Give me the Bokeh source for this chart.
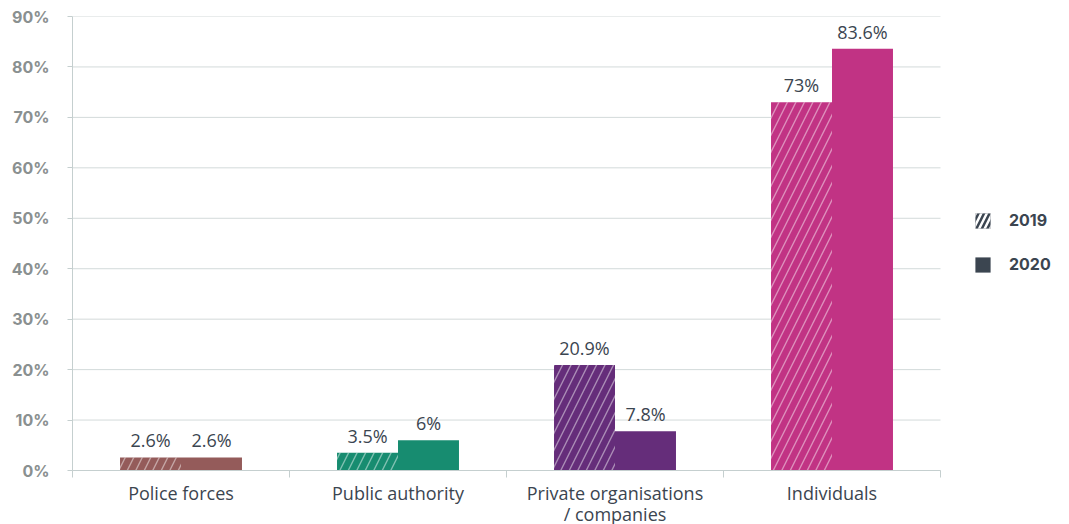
import numpy as np
from bokeh.plotting import figure
from bokeh.models import (ColumnDataSource, Range1d, FixedTicker, PrintfTickFormatter,
                          Legend, LegendItem)
from bokeh.core.properties import value
from bokeh.embed import file_html
from bokeh.resources import INLINE

categories = ["Police forces", "Public authority", "Private organisations\n/ companies", "Individuals"]
values_2019 = [2.6, 3.5, 20.9, 73]
values_2020 = [2.6, 6, 7.8, 83.6]
labels_2019 = ["2.6%", "3.5%", "20.9%", "73%"]
labels_2020 = ["2.6%", "6%", "7.8%", "83.6%"]
colors = ["#945b5a", "#178c70", "#652d7a", "#c13384"]
y_ticks = [0, 10, 20, 30, 40, 50, 60, 70, 80, 90]

TEXT = "#3b4550"
GRID = "#d3dada"
AXIS = "#c5cfcf"
FONT = "Open Sans"

n = len(categories)
centers = np.arange(n) + 0.5
bw = 0.281
off = 0.1405

PLOT_W = 868      # pixel width of the category area
LEGEND_W = 121    # extra frame room on the right for the legend
x_end = n * (PLOT_W + LEGEND_W) / PLOT_W

src = ColumnDataSource(dict(
    c=centers, x19=centers - off, x20=centers + off,
    v19=values_2019, v20=values_2020, l19=labels_2019, l20=labels_2020, col=colors,
))
grid_src = ColumnDataSource(dict(y=y_ticks, x0=[0] * len(y_ticks), x1=[n] * len(y_ticks)))

p = figure(frame_width=PLOT_W + LEGEND_W, frame_height=454, output_backend="svg",
           toolbar_location=None,
           x_range=Range1d(0, x_end), y_range=Range1d(0, 90),
           min_border_left=72, min_border_top=16, min_border_bottom=54, min_border_right=0)
p.outline_line_color = None
p.xgrid.grid_line_color = None
p.ygrid.grid_line_color = None

# grid lines limited to the category area
p.segment(x0="x0", x1="x1", y0="y", y1="y", source=grid_src, line_color=GRID, line_width=1)

p.vbar(x="x19", top="v19", width=bw, source=src, fill_color="col", line_color=None,
       hatch_pattern="right_diagonal_line", hatch_color="white", hatch_alpha=0.45,
       hatch_weight=1.4, hatch_scale=17)
p.vbar(x="x20", top="v20", width=bw, source=src, fill_color="col", line_color=None)

p.text(x="x19", y="v19", text="l19", source=src, y_offset=-5, text_align="center",
       text_baseline="bottom", text_color=TEXT, text_font_size="18px", text_font=value(FONT))
p.text(x="x20", y="v20", text="l20", source=src, y_offset=-5, text_align="center",
       text_baseline="bottom", text_color=TEXT, text_font_size="18px", text_font=value(FONT))

# legend proxy renderers (zero-height, invisible in plot)
r19 = p.vbar(x=[centers[0]], top=[0], bottom=[0], width=bw, fill_color=TEXT, line_color=None,
             hatch_pattern="right_diagonal_line", hatch_color="white", hatch_alpha=1.0,
             hatch_weight=2.5, hatch_scale=11)
r20 = p.vbar(x=[centers[0]], top=[0], bottom=[0], width=bw, fill_color=TEXT, line_color=None)
legend = Legend(items=[LegendItem(label="2019", renderers=[r19]),
                       LegendItem(label="2020", renderers=[r20])],
                location=(901, 196), border_line_color=None, background_fill_alpha=0,
                glyph_width=19, glyph_height=19, label_height=19, spacing=24,
                label_standoff=17, margin=0, padding=10,
                label_text_font="Inter", label_text_font_style="bold",
                label_text_font_size="16px", label_text_color=TEXT)
p.add_layout(legend, "center")

# axes
p.xaxis.bounds = (0, n)
p.xaxis.ticker = FixedTicker(ticks=list(centers), minor_ticks=list(range(n + 1)))
p.xaxis.major_label_overrides = {float(c): cat for c, cat in zip(centers, categories)}
p.xaxis.major_tick_line_color = None
p.xaxis.major_tick_out = 0
p.xaxis.minor_tick_out = 7
p.xaxis.minor_tick_in = 0
p.xaxis.minor_tick_line_color = AXIS
p.xaxis.axis_line_color = AXIS
p.xaxis.major_label_text_font = FONT
p.xaxis.major_label_text_font_size = "18px"
p.xaxis.major_label_text_line_height = 0.9
p.xaxis.major_label_text_color = TEXT
p.xaxis.major_label_standoff = 3

p.yaxis.ticker = FixedTicker(ticks=y_ticks, minor_ticks=[])
p.yaxis.formatter = PrintfTickFormatter(format="%d%%")
p.yaxis.axis_line_color = AXIS
p.yaxis.major_tick_line_color = AXIS
p.yaxis.major_tick_out = 5
p.yaxis.major_tick_in = 0
p.yaxis.minor_tick_line_color = None
p.yaxis.major_label_text_font = "Inter"
p.yaxis.major_label_text_font_style = "bold"
p.yaxis.major_label_text_font_size = "16px"
p.yaxis.major_label_text_color = "#8a9090"
p.yaxis.major_label_standoff = 18

open("out.html", "w").write(file_html(p, INLINE))
